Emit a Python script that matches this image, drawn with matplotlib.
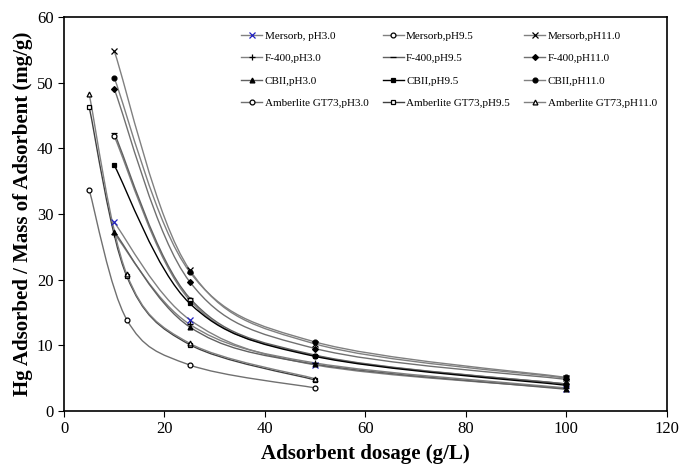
import numpy as np
import matplotlib.pyplot as plt
from matplotlib.path import Path
from matplotlib.patches import PathPatch
from matplotlib.lines import Line2D

plt.rcParams['font.family'] = ['Liberation Serif', 'DejaVu Serif']

# data
x_am = [5, 12.5, 25, 50]
x_std = [10, 25, 50, 100]

mersorb_30 = [28.7, 13.9, 7.0, 3.4]
mersorb_95 = [41.8, 16.9, 8.4, 4.1]
mersorb_110 = [54.8, 21.5, 10.2, 5.0]
f400_30 = [27.0, 13.2, 7.3, 3.5]
f400_95 = [42.3, 17.2, 8.5, 4.1]
f400_110 = [49.0, 19.7, 9.5, 4.8]
cbii_30 = [27.3, 12.8, 7.1, 3.3]
cbii_95 = [37.4, 16.4, 8.3, 3.9]
cbii_110 = [50.7, 21.2, 10.5, 5.1]
amb_30 = [33.7, 13.9, 7.0, 3.5]
amb_95 = [46.3, 20.5, 10.1, 4.7]
amb_110 = [48.3, 20.8, 10.3, 4.9]

# legend order: column by column (pH3.0, pH9.5, pH11.0)
series = [
    ('Mersorb, pH3.0', x_std, mersorb_30, 'x', '#808080', '#2020c0', 'none'),
    ('F-400,pH3.0', x_std, f400_30, '+', '#808080', 'black', 'none'),
    ('CBII,pH3.0', x_std, cbii_30, '^', '#606060', 'black', 'black'),
    ('Amberlite GT73,pH3.0', x_am, amb_30, 'o', '#707070', 'black', 'white'),
    ('Mersorb,pH9.5', x_std, mersorb_95, 'o', '#808080', 'black', 'white'),
    ('F-400,pH9.5', x_std, f400_95, '_', '#606060', 'black', 'none'),
    ('CBII,pH9.5', x_std, cbii_95, 's', 'black', 'black', 'black'),
    ('Amberlite GT73,pH9.5', x_am, amb_95, 's', '#404040', 'black', 'white'),
    ('Mersorb,pH11.0', x_std, mersorb_110, 'x', '#808080', 'black', 'none'),
    ('F-400,pH11.0', x_std, f400_110, 'D', '#707070', 'black', 'black'),
    ('CBII,pH11.0', x_std, cbii_110, 'o', '#808080', 'black', 'black'),
    ('Amberlite GT73,pH11.0', x_am, amb_110, '^', '#808080', 'black', 'white'),
]


def smooth_path(xs, ys):
    # Bezier smoothing like a spreadsheet "smoothed line"
    p = np.column_stack([xs, ys]).astype(float)
    n = len(p)
    verts = [p[0]]
    codes = [Path.MOVETO]
    for i in range(n - 1):
        p0 = p[i - 1] if i > 0 else p[i]
        p3 = p[i + 2] if i + 2 < n else p[i + 1]
        c1 = p[i] + (p[i + 1] - p0) / 6
        c2 = p[i + 1] - (p3 - p[i]) / 6
        verts += [c1, c2, p[i + 1]]
        codes += [Path.CURVE4] * 3
    return Path(verts, codes)


fig = plt.figure(figsize=(6.81, 4.68), dpi=100)
ax = fig.add_axes([0.094, 0.122, 0.885, 0.842])

handles = []
for label, xs, ys, mk, lc, mc, mf in series:
    ax.add_patch(PathPatch(smooth_path(xs, ys), facecolor='none',
                           edgecolor=lc, lw=1.0))
    ms = 4.5 if mk in ('x', '+', '_') else 3.5
    if mk == 'D':
        ms = 3
    ax.plot(xs, ys, ls='none', marker=mk, markersize=ms, color=mc,
            markerfacecolor=mf, markeredgecolor=mc, markeredgewidth=0.9)
    handles.append(Line2D([], [], color=lc, lw=1.0, marker=mk, markersize=ms,
                          markerfacecolor=mf, markeredgecolor=mc,
                          markeredgewidth=0.9, label=label))

ax.set_xlim(0, 120)
ax.set_ylim(0, 60)
ax.set_xticks(range(0, 121, 20))
ax.set_yticks(range(0, 61, 10))
ax.tick_params(direction='out', length=4, labelsize=12, colors='black')
for s in ax.spines.values():
    s.set_linewidth(1.2)

ax.set_xlabel('Adsorbent dosage (g/L)', fontsize=15, fontweight='bold', labelpad=5)
ax.set_ylabel('Hg Adsorbed / Mass of Adsorbent (mg/g)', fontsize=15,
              fontweight='bold', labelpad=3)

ax.legend(handles=handles, ncol=3, frameon=False, fontsize=8,
          loc='upper right', bbox_to_anchor=(1.0, 0.99),
          handlelength=1.9, handletextpad=0.2, columnspacing=1.3,
          labelspacing=1.15)

fig.savefig('out.png', dpi=100)
